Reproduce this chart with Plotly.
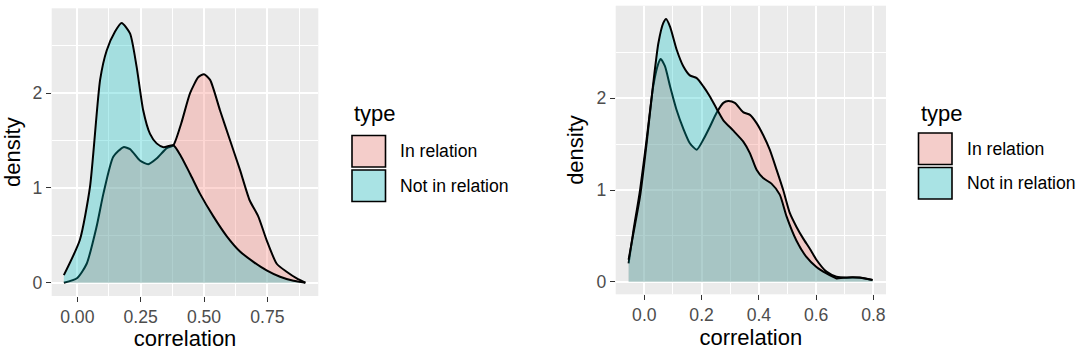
import plotly.graph_objects as go

# ---------------- data ----------------
# Left panel
left_in_x = [-0.053, 0.0, 0.037, 0.076, 0.103, 0.142, 0.182, 0.208, 0.247, 0.28, 0.313, 0.353,
             0.379, 0.41, 0.445, 0.478, 0.5, 0.524, 0.563, 0.603, 0.642, 0.68, 0.714, 0.747,
             0.787, 0.826, 0.866, 0.9]
left_in_y = [0.0, 0.05, 0.2, 0.59, 0.94, 1.33, 1.43, 1.41, 1.29, 1.25, 1.31, 1.42,
             1.45, 1.68, 2.0, 2.17, 2.2, 2.14, 1.82, 1.50, 1.19, 0.87, 0.70, 0.45,
             0.20, 0.116, 0.046, 0.0]
left_not_x = [-0.053, 0.01, 0.05, 0.09, 0.116, 0.149, 0.175, 0.208, 0.234, 0.26, 0.287, 0.313,
              0.34, 0.379, 0.41, 0.445, 0.484, 0.537, 0.59, 0.642, 0.695, 0.747, 0.8, 0.853, 0.9]
left_not_y = [0.08, 0.45, 1.01, 2.14, 2.45, 2.65, 2.74, 2.63, 2.28, 1.82, 1.57, 1.47,
              1.43, 1.45, 1.33, 1.15, 0.94, 0.70, 0.49, 0.33, 0.22, 0.13, 0.063, 0.02, 0.0]

# Right panel
right_in_x = [-0.055, -0.038, -0.015, 0.008, 0.031, 0.049, 0.057, 0.072, 0.09, 0.113, 0.136, 0.159,
              0.183, 0.206, 0.229, 0.252, 0.276, 0.293, 0.316, 0.345, 0.369, 0.392, 0.415, 0.438,
              0.462, 0.485, 0.508, 0.531, 0.555, 0.578, 0.601, 0.636, 0.671, 0.706, 0.752, 0.797]
right_in_y = [0.2, 0.56, 1.0, 1.55, 2.13, 2.38, 2.43, 2.35, 2.13, 1.87, 1.67, 1.51,
              1.44, 1.55, 1.69, 1.84, 1.95, 1.97, 1.95, 1.85, 1.82, 1.73, 1.6, 1.44,
              1.22, 1.0, 0.75, 0.6, 0.47, 0.36, 0.24, 0.11, 0.055, 0.044, 0.047, 0.018]
right_not_x = [-0.055, -0.038, -0.015, 0.008, 0.031, 0.049, 0.066, 0.076, 0.09, 0.113, 0.136, 0.159,
               0.183, 0.206, 0.229, 0.252, 0.276, 0.31, 0.345, 0.369, 0.392, 0.415, 0.444, 0.473,
               0.497, 0.531, 0.566, 0.601, 0.636, 0.671, 0.694, 0.741, 0.77, 0.797]
right_not_y = [0.24, 0.53, 0.93, 1.51, 2.16, 2.6, 2.82, 2.865, 2.78, 2.53, 2.35, 2.25,
               2.22, 2.13, 2.02, 1.89, 1.76, 1.65, 1.53, 1.40, 1.22, 1.13, 1.07, 0.95,
               0.71, 0.45, 0.27, 0.16, 0.09, 0.036, 0.044, 0.047, 0.036, 0.018]

series_names = ["In relation", "Not in relation"]
left_x_ticks = [0.0, 0.25, 0.5, 0.75]
left_x_labels = ["0.00", "0.25", "0.50", "0.75"]
right_x_ticks = [0.0, 0.2, 0.4, 0.6, 0.8]
right_x_labels = ["0.0", "0.2", "0.4", "0.6", "0.8"]
y_ticks = [0, 1, 2]

# ---------------- styling ----------------
W, H = 1080, 351
RED_FILL = "rgba(248,118,109,0.3)"
TEAL_FILL = "rgba(0,191,196,0.3)"
RED_KEY = "#F4CDCA"    # 0.3 alpha red over grey95 key background
TEAL_KEY = "#A9E3E4"   # 0.3 alpha teal over grey95 key background
FONT = "Liberation Sans, Arial, sans-serif"

fig = go.Figure()

def add_density(x, y, fill, xa, ya, name):
    fig.add_trace(go.Scatter(
        x=x, y=y, mode="lines", name=name, showlegend=False,
        line=dict(color="black", width=2, shape="spline", smoothing=0.6),
        fill="tozeroy", fillcolor=fill, xaxis=xa, yaxis=ya,
        hoverinfo="x+y"))

add_density(left_in_x, left_in_y, RED_FILL, "x", "y", series_names[0])
add_density(left_not_x, left_not_y, TEAL_FILL, "x", "y", series_names[1])
add_density(right_in_x, right_in_y, RED_FILL, "x2", "y2", series_names[0])
add_density(right_not_x, right_not_y, TEAL_FILL, "x2", "y2", series_names[1])

def px_x(p):
    return p / W

def px_y(p):
    return 1 - p / H

axis_common = dict(
    showgrid=True, gridcolor="white", gridwidth=2.4, zeroline=False,
    ticks="outside", ticklen=5, tickwidth=1.2, tickcolor="#333333",
    tickfont=dict(family=FONT, size=17.6, color="#4D4D4D"),
    showline=False,
)

fig.update_layout(
    width=W, height=H, margin=dict(l=0, r=0, t=0, b=0),
    paper_bgcolor="white", plot_bgcolor="#EBEBEB",
    font=dict(family=FONT),
    showlegend=False,
    xaxis=dict(domain=[px_x(51.7), px_x(318.3)], anchor="y", range=[-0.101, 0.951],
               tickvals=left_x_ticks, ticktext=left_x_labels,
               minor=dict(tickvals=[0.125, 0.375, 0.625, 0.875], showgrid=True,
                          gridcolor="white", gridwidth=1.2, ticks=""),
               title=dict(text="correlation", font=dict(family=FONT, size=22, color="black"), standoff=2),
               **axis_common),
    yaxis=dict(domain=[px_y(296), px_y(8.3)], anchor="x", range=[-0.14, 2.895],
               tickvals=y_ticks,
               minor=dict(tickvals=[0.5, 1.5, 2.5], showgrid=True,
                          gridcolor="white", gridwidth=1.2, ticks=""),
               title=dict(text="density", font=dict(family=FONT, size=22, color="black"), standoff=6),
               **axis_common),
    xaxis2=dict(domain=[px_x(615.7), px_x(886)], anchor="y2", range=[-0.1, 0.844],
                tickvals=right_x_ticks, ticktext=right_x_labels,
                minor=dict(tickvals=[0.1, 0.3, 0.5, 0.7], showgrid=True,
                           gridcolor="white", gridwidth=1.2, ticks=""),
                title=dict(text="correlation", font=dict(family=FONT, size=22, color="black"), standoff=2),
                **axis_common),
    yaxis2=dict(domain=[px_y(294.3), px_y(5.7)], anchor="x2", range=[-0.137, 3.01],
                tickvals=y_ticks,
                minor=dict(tickvals=[0.5, 1.5, 2.5], showgrid=True,
                           gridcolor="white", gridwidth=1.2, ticks=""),
                title=dict(text="density", font=dict(family=FONT, size=22, color="black"), standoff=6),
                **axis_common),
)

# ---------------- manual ggplot-style legends ----------------
def add_legend(x0, title_y, key_tops, key_h, key_w, label_x):
    fig.add_annotation(x=px_x(x0), y=px_y(title_y), xref="paper", yref="paper",
                       text="type", showarrow=False, xanchor="left", yanchor="middle",
                       font=dict(family=FONT, size=22, color="black"))
    fills = [RED_KEY, TEAL_KEY]
    for top, fill, name in zip(key_tops, fills, series_names):
        fig.add_shape(type="rect", xref="paper", yref="paper",
                      x0=px_x(x0), x1=px_x(x0 + key_w), y0=px_y(top + key_h), y1=px_y(top),
                      fillcolor=fill, line=dict(color="black", width=1.6))
        fig.add_annotation(x=px_x(label_x), y=px_y(top + key_h / 2), xref="paper", yref="paper",
                           text=name, showarrow=False, xanchor="left", yanchor="middle",
                           font=dict(family=FONT, size=17.6, color="black"))

add_legend(352, 113, [135.5, 170], 31.5, 33.5, 398)
add_legend(918.5, 113, [133, 167.5], 31.5, 33.5, 965)

fig.write_html("out.html")
